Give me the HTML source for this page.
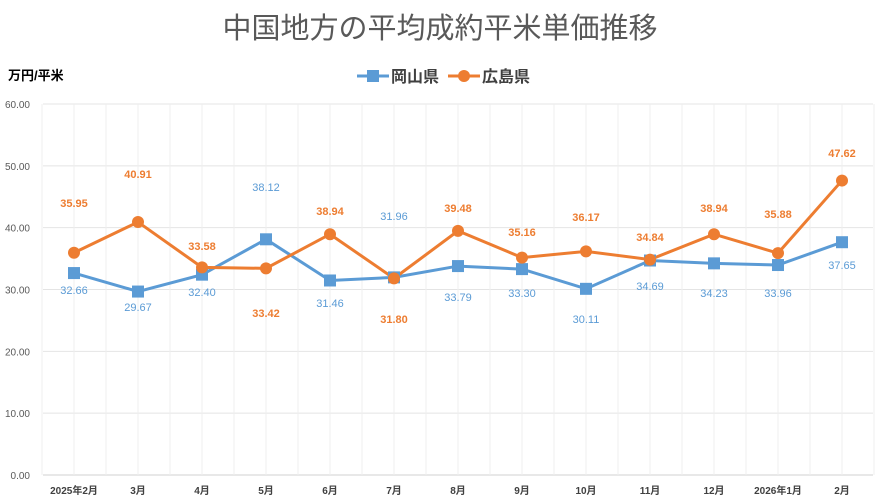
<!DOCTYPE html><html><head><meta charset="utf-8"><style>body{margin:0;background:#fff}svg{display:block;font-family:"Liberation Sans","Noto Sans CJK JP",sans-serif}</style></head><body>
<svg width="880" height="504" viewBox="0 0 880 504">
<text x="440" y="38" font-size="29" fill="#595959" text-anchor="middle">中国地方の平均成約平米単価推移</text>
<text x="8" y="80" font-size="13" font-weight="bold" fill="#000">万円/平米</text>
<g font-size="16" fill="#404040" font-weight="bold"><line x1="357" y1="76" x2="389" y2="76" stroke="#5b9bd5" stroke-width="3"/><rect x="367" y="70" width="12" height="12" fill="#5b9bd5"/><text x="391" y="82">岡山県</text>
<line x1="448" y1="76" x2="480" y2="76" stroke="#ed7d31" stroke-width="3"/><circle cx="464" cy="76" r="6" fill="#ed7d31"/><text x="482" y="82">広島県</text></g>
<g id="grid" stroke="#e4e4e4" stroke-width="1"></g>
<g id="yl" font-size="10" fill="#595959" text-anchor="end"></g>
<g id="xl" font-size="10" fill="#404040" font-weight="bold" text-anchor="middle"></g>
<g id="ser"></g>
</svg>
<script>
const ns="http://www.w3.org/2000/svg";
function el(p,t,a,txt){const e=document.createElementNS(ns,t);for(const k in a)e.setAttribute(k,a[k]);if(txt!=null)e.textContent=txt;document.getElementById(p).appendChild(e);return e;}
const Y=v=>475-v*6.183, X=i=>74+i*64;
for(let i=0;i<=6;i++){const y=Y(i*10);el('grid','line',{x1:43,x2:873,y1:y,y2:y,stroke:i==0?'#d0d0d0':'#e4e4e4'});el('yl','text',{x:30,y:y+4},(i*10).toFixed(2));}
for(let i=0;i<=26;i++){const x=42+i*32;el('grid','line',{x1:x,x2:x,y1:104,y2:475,stroke:'#efefef'});}
const labs=['2025年2月','3月','4月','5月','6月','7月','8月','9月','10月','11月','12月','2026年1月','2月'];
labs.forEach((l,i)=>el('xl','text',{x:X(i),y:494},l));
const ok=[32.66,29.67,32.40,38.12,31.46,31.96,33.79,33.30,30.11,34.69,34.23,33.96,37.65];
const hi=[35.95,40.91,33.58,33.42,38.94,31.80,39.48,35.16,36.17,34.84,38.94,35.88,47.62];
const okY=[294,311,296,191,307,220,301,297,323,290,297,297,269];
const hiY=[207,178,250,317,215,323,212,236,221,241,212,218,157];
el('ser','polyline',{points:ok.map((v,i)=>X(i)+','+Y(v)).join(' '),fill:'none',stroke:'#5b9bd5','stroke-width':3});
el('ser','polyline',{points:hi.map((v,i)=>X(i)+','+Y(v)).join(' '),fill:'none',stroke:'#ed7d31','stroke-width':3});
ok.forEach((v,i)=>{el('ser','rect',{x:X(i)-6,y:Y(v)-6,width:12,height:12,fill:'#5b9bd5'});el('ser','text',{x:X(i),y:okY[i],'font-size':11,fill:'#5b9bd5','text-anchor':'middle'},v.toFixed(2));});
hi.forEach((v,i)=>{el('ser','circle',{cx:X(i),cy:Y(v),r:6,fill:'#ed7d31'});el('ser','text',{x:X(i),y:hiY[i],'font-size':11,fill:'#ed7d31','font-weight':'bold','text-anchor':'middle'},v.toFixed(2));});
</script>
</body></html>
